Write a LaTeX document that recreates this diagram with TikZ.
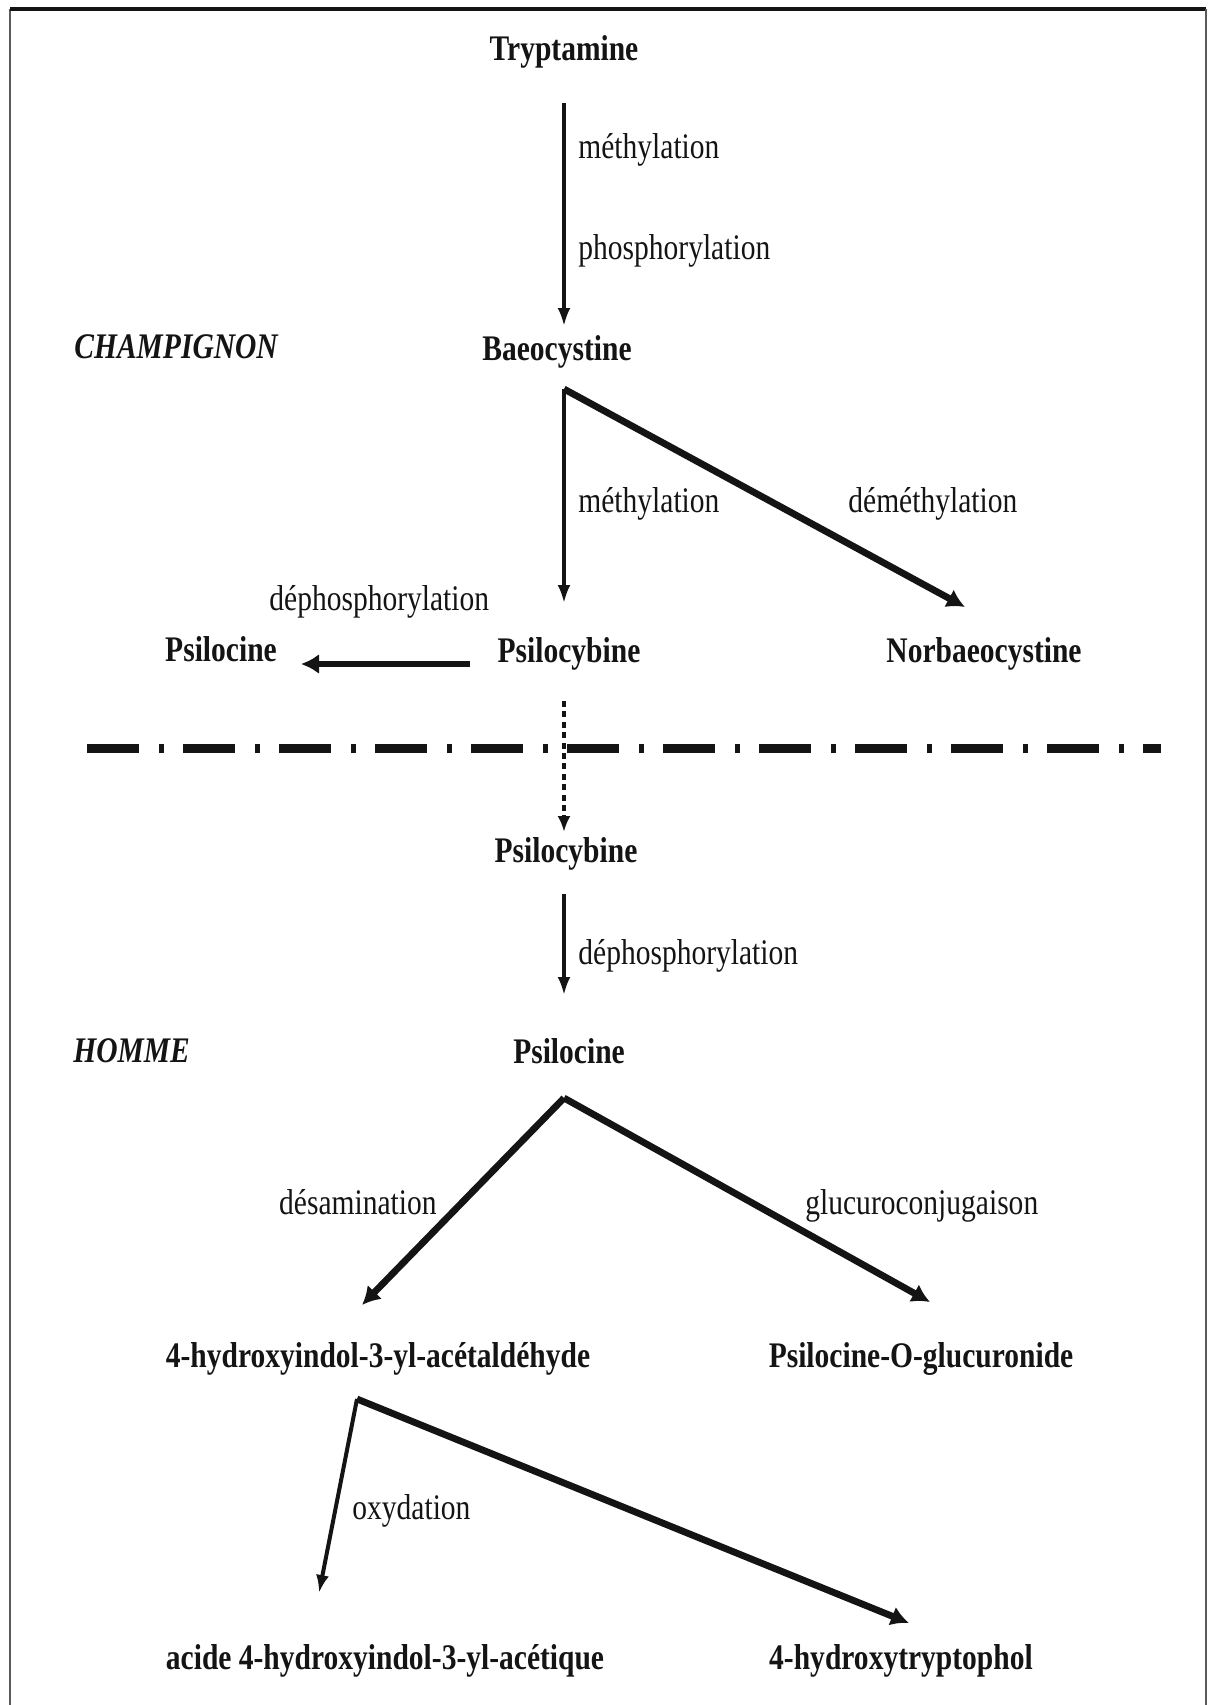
\documentclass[tikz,border=0pt]{standalone}
\usepackage{fontspec}
\setmainfont{Liberation Serif}[FakeStretch=0.82]
\usetikzlibrary{arrows.meta}
\definecolor{scanink}{HTML}{141414}
\definecolor{framegray}{HTML}{5A5A5A}

\begin{document}
\begin{tikzpicture}[x=0.5pt, y=-0.5pt,
  every node/.style={font=\fontsize{18pt}{20pt}\selectfont, inner sep=0pt, text=scanink},
  cpd/.style={anchor=base, font=\fontsize{18pt}{20pt}\selectfont\bfseries},
  lbl/.style={anchor=base west},
  site/.style={anchor=base west, font=\fontsize{18pt}{20pt}\selectfont\bfseries\itshape},
  fine/.style={draw=scanink, line width=1.7pt, -{Latex[length=9pt, width=6.5pt]}},
  heavy/.style={draw=scanink, line width=3.4pt, -{Latex[length=9pt, width=10pt]}},
  dotarr/.style={draw=scanink, line width=2pt, dash pattern=on 3pt off 2.2pt, -{Latex[length=8pt, width=6.5pt]}},
  sepline/.style={draw=scanink, line width=4.5pt, dash pattern=on 26pt off 10pt on 2.5pt off 9.5pt},
]
\useasboundingbox (0,0) rectangle (1209,1705);

% frame
\draw[framegray, line width=1pt] (10,1705) -- (10,9);
\draw[scanink, line width=1.6pt] (10,9) -- (1206,9);
\draw[framegray, line width=1pt] (1206,9) -- (1206,1705);

% Champignon
\node[cpd] (tryp) at (564,60) {Tryptamine};
\node[lbl] (meth1) at (578,158) {méthylation};
\node[lbl] (phos) at (578,259) {phosphorylation};
\node[site] (champ) at (74,358) {CHAMPIGNON};
\node[cpd] (baeo) at (557,360) {Baeocystine};
\node[lbl] (meth2) at (578,512) {méthylation};
\node[lbl] (demeth) at (848,512) {déméthylation};
\node[lbl] (dephos1) at (269,610) {déphosphorylation};
\node[cpd] (psin1) at (221,661) {Psilocine};
\node[cpd] (psib1) at (569,662) {Psilocybine};
\node[cpd] (norb) at (984,662) {Norbaeocystine};

% Homme
\node[cpd] (psib2) at (566,862) {Psilocybine};
\node[lbl] (dephos2) at (578,964) {déphosphorylation};
\node[site] (homme) at (73,1062) {HOMME};
\node[cpd] (psin2) at (569,1063) {Psilocine};
\node[lbl, anchor=base east] (desam) at (437,1214) {désamination};
\node[lbl] (gluc) at (805,1214) {glucuroconjugaison};
\node[cpd] (ald) at (378,1367) {4-hydroxyindol-3-yl-acétaldéhyde};
\node[cpd] (glucoside) at (921,1367) {Psilocine-O-glucuronide};
\node[lbl] (oxy) at (352,1519) {oxydation};
\node[cpd] (acid) at (385,1669) {acide 4-hydroxyindol-3-yl-acétique};
\node[cpd] (tryptol) at (901,1669) {4-hydroxytryptophol};

% arrow ends
\coordinate (tryp-out) at (564,103);
\coordinate (baeo-in) at (564,326);
\coordinate (baeo-out) at (564,389);
\coordinate (psib1-in) at (564,603);
\coordinate (norb-in) at (965,607);
\coordinate (psib1-left) at (470,664);
\coordinate (psin1-in) at (301,664);
\coordinate (psib1-out) at (564,701);
\coordinate (psib2-in) at (564,832);
\coordinate (psib2-out) at (564,894);
\coordinate (psin2-in) at (564,995);
\coordinate (psin2-out) at (564,1098);
\coordinate (ald-in) at (362,1305);
\coordinate (glucoside-in) at (930,1302);
\coordinate (ald-out) at (357,1399);
\coordinate (acid-in) at (319,1593);
\coordinate (tryptol-in) at (909,1623);

% Connections
\draw[fine] (tryp-out) -- (baeo-in);
\draw[fine] (baeo-out) -- (psib1-in);
\draw[heavy] (baeo-out) -- (norb-in);
\draw[heavy] (psib1-left) -- (psin1-in);
\draw[dotarr] (psib1-out) -- (psib2-in);
\draw[fine] (psib2-out) -- (psin2-in);
\draw[heavy] (psin2-out) -- (ald-in);
\draw[heavy] (psin2-out) -- (glucoside-in);
\draw[fine, line width=2pt] (ald-out) -- (acid-in);
\draw[heavy] (ald-out) -- (tryptol-in);

% separation
\draw[sepline] (87,748) -- (1161,748);

\end{tikzpicture}
\end{document}
